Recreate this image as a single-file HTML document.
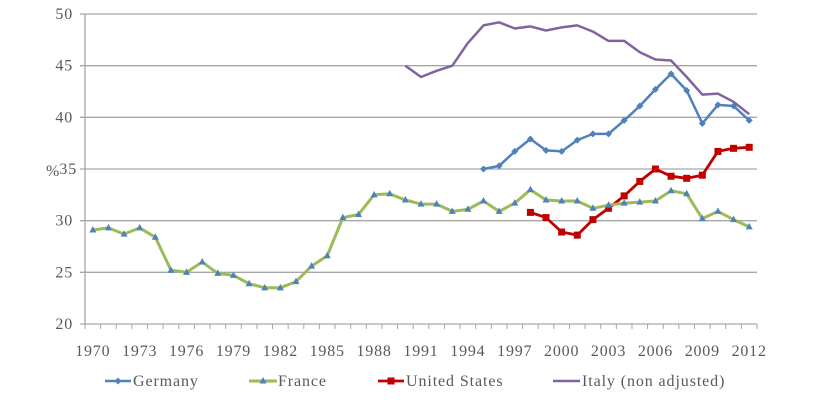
<!DOCTYPE html>
<html><head><meta charset="utf-8"><style>
html,body{margin:0;padding:0;background:#fff;width:823px;height:407px;overflow:hidden}
text{font-family:"Liberation Serif",serif;fill:#595959;letter-spacing:0.8px}
</style></head><body>
<svg id="s" width="823" height="407" xmlns="http://www.w3.org/2000/svg"></svg>
<script>
var s=document.getElementById('s'),h='';
var X0=85,X1=757,n=43,cw=(X1-X0)/n;
function px(y){return X0+cw*(y-1970+0.5)}
function py(v){return 324-(v-20)*(310/30)}
for(var v=20;v<=50;v+=5){var y=py(v);
 h+='<line x1="80" y1="'+y+'" x2="'+X1+'" y2="'+y+'" stroke="#a6a6a6" stroke-width="1.3"/>';
 h+='<text x="'+(v==35?77:73)+'" y="'+(y+5)+'" font-size="16" text-anchor="end">'+v+'</text>';}
h+='<text x="46" y="176" font-size="16">%</text>';
h+='<line x1="'+X0+'" y1="14" x2="'+X0+'" y2="324" stroke="#a6a6a6" stroke-width="1.3"/>';
for(var i=0;i<=n;i++){var x=X0+cw*i;h+='<line x1="'+x+'" y1="324" x2="'+x+'" y2="329" stroke="#a6a6a6"/>';}
for(var yr=1970;yr<=2012;yr+=3)h+='<text x="'+px(yr)+'" y="356" font-size="16" text-anchor="middle">'+yr+'</text>';
var fr=[29.1,29.3,28.7,29.3,28.4,25.2,25.0,26.0,24.9,24.7,23.9,23.5,23.5,24.1,25.6,26.6,30.3,30.6,32.5,32.6,32.0,31.6,31.6,30.9,31.1,31.9,30.9,31.7,33.0,32.0,31.9,31.9,31.2,31.5,31.7,31.8,31.9,32.9,32.6,30.2,30.9,30.1,29.4];
var de=[35.0,35.3,36.7,37.9,36.8,36.7,37.8,38.4,38.4,39.7,41.1,42.7,44.2,42.6,39.4,41.2,41.1,39.7];
var us=[30.8,30.3,28.9,28.6,30.1,31.2,32.4,33.8,35.0,34.3,34.1,34.4,36.7,37.0,37.1];
var it=[45.0,43.9,44.5,45.0,47.2,48.9,49.2,48.6,48.8,48.4,48.7,48.9,48.3,47.4,47.4,46.3,45.6,45.5,43.9,42.2,42.3,41.5,40.3];
function pts(d,st){return d.map(function(v,i){return [px(st+i),py(v)]})}
function line(p,c,w){return '<polyline fill="none" stroke="'+c+'" stroke-width="'+w+'" stroke-linejoin="round" points="'+p.map(function(a){return a[0].toFixed(1)+','+a[1].toFixed(1)}).join(' ')+'"/>'}
var P=pts(it,1990);h+=line(P,'#8064a2',2.5);
P=pts(de,1995);h+=line(P,'#4f81bd',2.5);P.forEach(function(a){h+='<polygon points="'+a[0]+','+(a[1]-3.5)+' '+(a[0]+3.5)+','+a[1]+' '+a[0]+','+(a[1]+3.5)+' '+(a[0]-3.5)+','+a[1]+'" fill="#4f81bd"/>'});
P=pts(us,1998);h+=line(P,'#c00000',2.8);P.forEach(function(a){h+='<rect x="'+(a[0]-3.5)+'" y="'+(a[1]-3.5)+'" width="7" height="7" fill="#c00000"/>'});
P=pts(fr,1970);h+=line(P,'#9bbb59',3);P.forEach(function(a){h+='<polygon points="'+a[0]+','+(a[1]-4)+' '+(a[0]+3.5)+','+(a[1]+2.5)+' '+(a[0]-3.5)+','+(a[1]+2.5)+'" fill="#4f81bd"/>'});
var ly=381,ls='font-size="16" style="letter-spacing:0.9px"';
h+='<line x1="105" y1="'+ly+'" x2="131" y2="'+ly+'" stroke="#4f81bd" stroke-width="2.5"/><polygon points="118,'+(ly-3.5)+' 121.5,'+ly+' 118,'+(ly+3.5)+' 114.5,'+ly+'" fill="#4f81bd"/><text x="133" y="'+(ly+5)+'" '+ls+'>Germany</text>';
h+='<line x1="249" y1="'+ly+'" x2="277" y2="'+ly+'" stroke="#9bbb59" stroke-width="3"/><polygon points="263,'+(ly-4)+' 266.5,'+(ly+2.5)+' 259.5,'+(ly+2.5)+'" fill="#4f81bd"/><text x="278" y="'+(ly+5)+'" '+ls+'>France</text>';
h+='<line x1="378" y1="'+ly+'" x2="404" y2="'+ly+'" stroke="#c00000" stroke-width="2.8"/><rect x="387.5" y="'+(ly-3.5)+'" width="7" height="7" fill="#c00000"/><text x="406" y="'+(ly+5)+'" '+ls+'>United States</text>';
h+='<line x1="553" y1="'+ly+'" x2="580" y2="'+ly+'" stroke="#8064a2" stroke-width="2.5"/><text x="582" y="'+(ly+5)+'" '+ls+'>Italy (non adjusted)</text>';
s.innerHTML=h;
</script>
</body></html>
